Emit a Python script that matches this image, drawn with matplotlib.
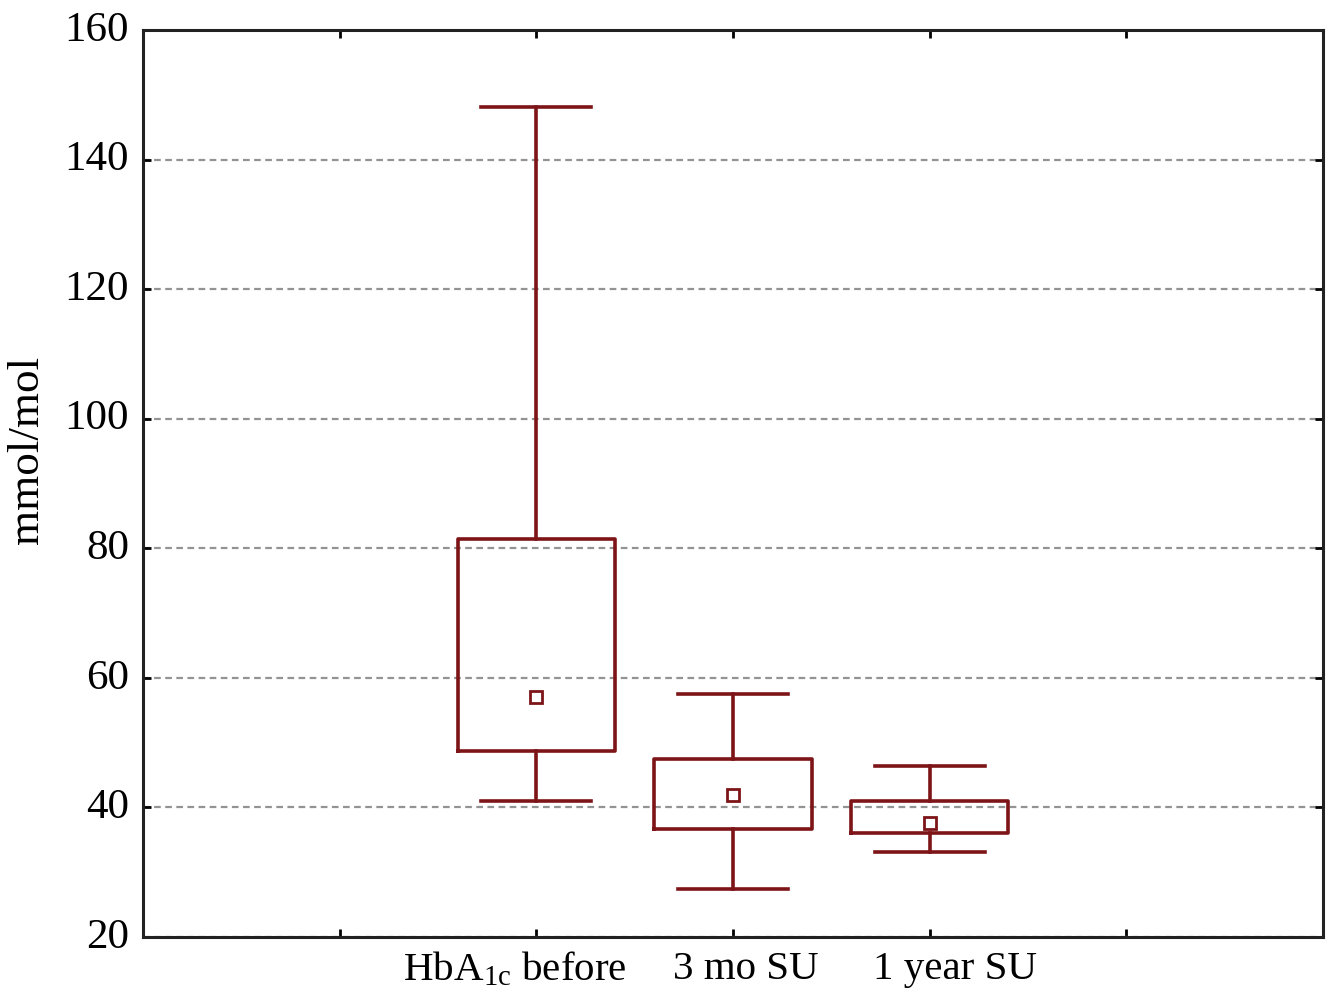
import matplotlib.pyplot as plt
from matplotlib.transforms import ScaledTranslation

plt.rcParams['font.family'] = ['Liberation Serif', 'DejaVu Serif']
plt.rcParams['mathtext.fontset'] = 'custom'
plt.rcParams['mathtext.rm'] = 'Liberation Serif'
plt.rcParams['mathtext.it'] = 'Liberation Serif:italic'

groups = ['HbA$_{\\mathrm{1c}}$ before', '3 mo SU', '1 year SU']
whisk_low = [41.0, 27.4, 33.1]
box_low = [48.7, 36.7, 36.1]
centre = [57.0, 41.9, 37.6]
box_high = [81.4, 47.5, 41.0]
whisk_high = [148.1, 57.5, 46.4]

red = '#7d1518'

stats = []
for i, g in enumerate(groups):
    stats.append(dict(label=g, whislo=whisk_low[i], q1=box_low[i], med=centre[i],
                      mean=centre[i], q3=box_high[i], whishi=whisk_high[i], fliers=[]))

fig = plt.figure(figsize=(13.31, 9.98), dpi=100)
ax = fig.add_axes([0.1074, 0.0611, 0.8866, 0.9089])

ax.bxp(stats, positions=[2, 3, 4], widths=0.8, capwidths=0.56,
       showmeans=True, showfliers=False,
       boxprops=dict(color=red, linewidth=2.6),
       whiskerprops=dict(color=red, linewidth=2.6),
       capprops=dict(color=red, linewidth=2.6),
       medianprops=dict(visible=False),
       meanprops=dict(marker='s', markersize=8, markerfacecolor='white',
                      markeredgecolor=red, markeredgewidth=2),
       zorder=3)

ax.set_xlim(0, 6)
ax.set_ylim(20, 160)
ax.set_yticks(range(20, 161, 20))
ax.set_xticks([1, 2, 3, 4, 5])
ax.set_xticklabels([''] + groups + [''], fontsize=29.5)
ax.grid(axis='y', linestyle=(0, (3, 2)), color='#939393', linewidth=1.6, zorder=0)
ax.tick_params(direction='in', length=6, width=2, top=True, right=True, pad=10)
ax.tick_params(axis='y', labelsize=31)

# labels sit a little off their ticks in the original
shifts = [0, -22, 13, 25, 0]
for lab, dx in zip(ax.get_xticklabels(), shifts):
    lab.set_transform(lab.get_transform() + ScaledTranslation(dx / 100, 0, fig.dpi_scale_trans))
for lab in ax.get_yticklabels():
    lab.set_transform(lab.get_transform() + ScaledTranslation(0, 4 / 100, fig.dpi_scale_trans))

for s in ax.spines.values():
    s.set_linewidth(2.2)
    s.set_color('#222222')
ax.set_ylabel('mmol/mol', fontsize=32.5)
ax.yaxis.set_label_coords(-0.081, 0.537)

fig.savefig('out.png', dpi=100)
